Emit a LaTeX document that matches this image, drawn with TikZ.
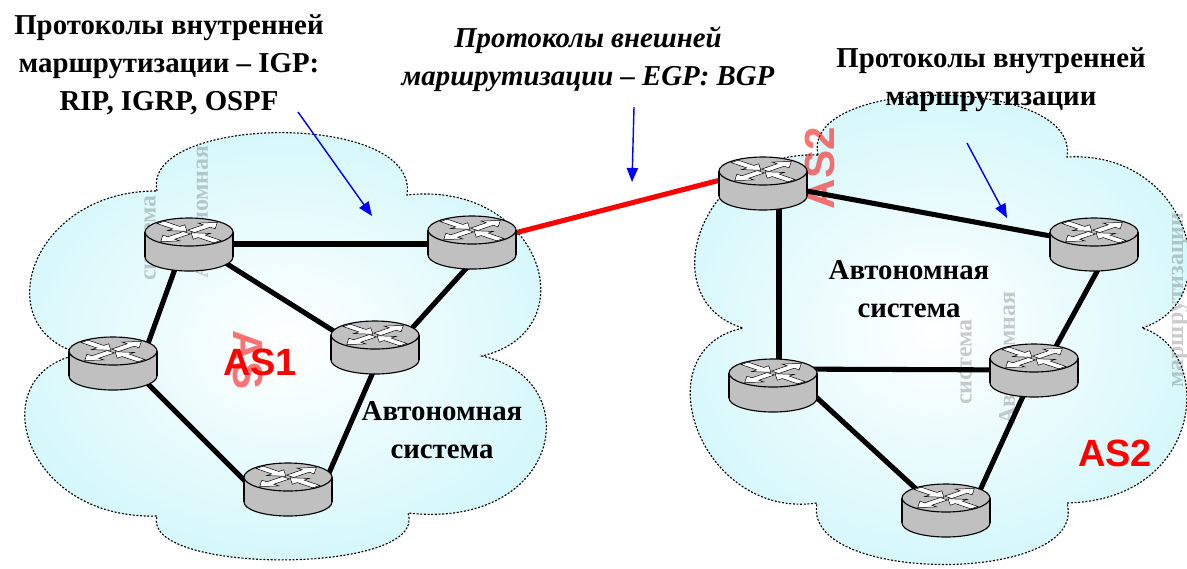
\documentclass[tikz,border=0pt]{standalone}
\usepackage{fontspec}
\setmainfont{Liberation Serif}
\newfontfamily\arialfont{Liberation Sans}
\usetikzlibrary{arrows.meta,calc}

\definecolor{cloudfill}{RGB}{210,247,251}
\definecolor{routergray}{RGB}{192,192,192}
\definecolor{asred}{RGB}{255,0,0}
\definecolor{ptrblue}{RGB}{0,0,255}
\definecolor{ghostgray}{RGB}{70,70,70}

\tikzset{
  cloudline/.style={draw=black, line width=0.8pt, dash pattern=on 1.4pt off 1.2pt,
    inner color=white, outer color=cloudfill},
  link/.style={line width=3.6pt, black},
  bgplink/.style={line width=3.6pt, asred},
  pointer/.style={ptrblue, line width=1pt, -{Triangle[length=10pt,width=8pt]}},
  txtbold/.style={font=\bfseries\fontsize{20.5}{27}\selectfont, align=center, inner sep=0pt},
  txtital/.style={font=\bfseries\itshape\fontsize{20.5}{27}\selectfont, align=center, inner sep=0pt},
  asname/.style={font=\arialfont\bfseries\fontsize{27}{30}\selectfont, text=asred, inner sep=0pt},
  ghost/.style={font=\bfseries\fontsize{17}{20}\selectfont, text=ghostgray, opacity=0.28, inner sep=0pt, rotate=90},
  redghost/.style={font=\arialfont\bfseries\fontsize{30}{32}\selectfont, text=asred, opacity=0.55, inner sep=0pt},
  rarrow/.style={fill=white, draw=black, line width=0.35pt},
  % router icon: cylinder with four white arrows on its top face
  router/.pic={
    \path[fill=routergray, draw=black, line width=0.8pt] (0,13) ellipse[x radius=44, y radius=14];
    \path[fill=routergray] (-44,-12) rectangle (44,13);
    \draw[black, line width=0.8pt] (-44,-12) -- (-44,13) (44,-12) -- (44,13);
    \path[fill=routergray, draw=black, line width=0.8pt] (0,-12) ellipse[x radius=44, y radius=14];
    \begin{scope}[shift={(0,-12)}, yscale=0.34]
      \foreach \a in {135,315}
        \path[rarrow, rotate=\a] (40,-5) -- (18,-5) -- (18,-12) -- (3,0) -- (18,12) -- (18,5) -- (40,5) -- cycle;
      \foreach \a in {45,225}
        \path[rarrow, rotate=\a] (3,-5) -- (25,-5) -- (25,-12) -- (40,0) -- (25,12) -- (25,5) -- (3,5) -- cycle;
    \end{scope}
  }
}

\begin{document}
\begin{tikzpicture}[x=0.025cm, y=-0.025cm]
\useasboundingbox (0,0) rectangle (1187,568);

% the two autonomous-system clouds
\path[cloudline] (157,191) .. controls (140,115) and (420,110) .. (407,195)
  .. controls (540,180) and (590,330) .. (482,356)
  .. controls (590,380) and (560,530) .. (408,513)
  .. controls (430,575) and (140,575) .. (157,516)
  .. controls (20,520) and (-20,370) .. (82,354)
  .. controls (-15,330) and (30,190) .. (157,191) -- cycle;
\path[cloudline] (818,155) .. controls (800,75) and (1080,75) .. (1067,157)
  .. controls (1190,150) and (1230,300) .. (1142,328)
  .. controls (1215,350) and (1205,500) .. (1067,503)
  .. controls (1090,585) and (800,585) .. (817,503)
  .. controls (700,520) and (640,350) .. (743,328)
  .. controls (650,300) and (700,150) .. (818,155) -- cycle;

% faint rotated lettering inside the clouds
\node[ghost] (g1) at (200,212) {Автономная};
\node[ghost] (g2) at (150,238) {система};
\node[ghost] (g3) at (966,362) {система};
\node[ghost] (g4) at (1007,358) {Автономная};
\node[ghost] (g5) at (1180,300) {маршрутизации};
\node[redghost, rotate=-90] (rg1) at (248,360) {AS};
\node[redghost, rotate=90] (rg2) at (820,168) {AS2};

% routers (body centres)
\coordinate (R1) at (189,244);
\coordinate (R2) at (472,242);
\coordinate (R3) at (375,347);
\coordinate (R4) at (113,363);
\coordinate (R5) at (288,489);
\coordinate (R6) at (763,183);
\coordinate (R7) at (1094,244);
\coordinate (R8) at (773,385);
\coordinate (R9) at (1034,370);
\coordinate (R10) at (946,510);

% links inside AS1
\draw[link] (R1) -- (R1 -| R2);
\draw[link] ($(R1)+(0,-4)$) -- ($(R3)+(0,10)$);
\draw[link] ($(R1)+(-5,0)$) -- ($(R4)+(28,0)$);
\draw[link] ($(R2)+(18,0)$) -- ($(R3)+(20,0)$);
\draw[link] ($(R4)+(14,0)$) -- ($(R5)+(-35,0)$);
\draw[link] ($(R3)+(9,0)$) -- ($(R5)+(34,0)$);
% links inside AS2
\draw[link] (R6) -- (R7);
\draw[link] ($(R6)+(16,0)$) -- ($(R8)+(6,0)$);
\draw[link] ($(R8)+(0,-16)$) -- (R9);
\draw[link] ($(R8)+(30,0)$) -- ($(R10)+(-7,0)$);
\draw[link] ($(R9)+(9,0)$) -- ($(R7)+(18,0)$);
\draw[link] ($(R9)+(1,0)$) -- ($(R10)+(25,0)$);
% inter-AS link (BGP)
\draw[bgplink] ($(R2)+(0,2)$) -- ($(R6)+(0,-14)$);

\foreach \r in {R1,R2,R3,R4,R5,R6,R7,R8,R9,R10}
  \pic at (\r) {router};

% labels
\node[txtbold] (igp) at (169,65) {Протоколы внутренней\\маршрутизации – IGP:\\RIP, IGRP, OSPF};
\node[txtital] (egp) at (588,59) {Протоколы внешней\\маршрутизации – EGP: BGP};
\node[txtbold] (igp2) at (991,80) {Протоколы внутренней\\маршрутизации};
\node[txtbold] (sys1) at (442,430) {Автономная\\система};
\node[txtbold] (sys2) at (909,289) {Автономная\\система};
\node[asname] (as1) at (260,362) {AS1};
\node[asname] (as2) at (1115,453) {AS2};

% pointers from the captions into the picture
\coordinate (p1s) at (298,112); \coordinate (p1e) at (372,216);
\coordinate (p2s) at (634,107); \coordinate (p2e) at (632,182);
\coordinate (p3s) at (967,143); \coordinate (p3e) at (1007,218);
\draw[pointer] (p1s) -- (p1e);
\draw[pointer] (p2s) -- (p2e);
\draw[pointer] (p3s) -- (p3e);
\end{tikzpicture}
\end{document}
